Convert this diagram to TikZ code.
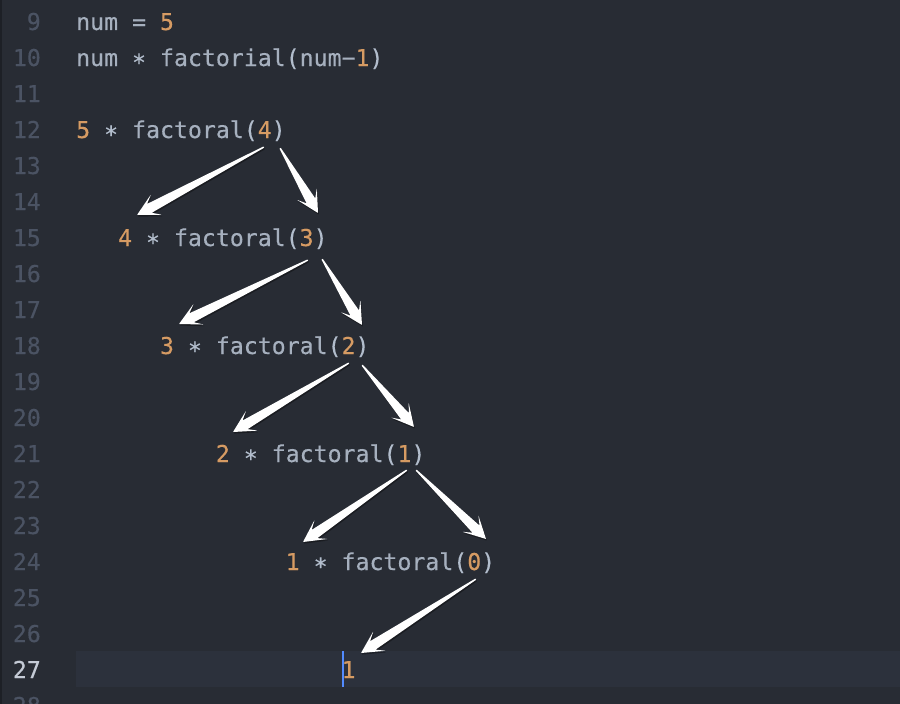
\documentclass[tikz,border=0pt]{standalone}
\usepackage{fontspec}
\newfontfamily\codefont{DejaVu Sans Mono}[FakeBold=0.35]
\usetikzlibrary{calc}
\definecolor{bg}{HTML}{282C34}
\definecolor{rowhl}{HTML}{2C313C}
\definecolor{edge}{HTML}{1D2026}
\definecolor{gutterfg}{HTML}{4B5363}
\definecolor{gutteron}{HTML}{C5CBD6}
\definecolor{codefg}{HTML}{A6B0BE}
\definecolor{punctfg}{HTML}{B2BDCC}
\definecolor{numfg}{HTML}{D69B63}
\definecolor{cursorc}{HTML}{528BFF}
\newcommand{\lit}[1]{\textcolor{numfg}{#1}}
\newcommand{\pun}[1]{\textcolor{punctfg}{#1}}
\newcommand{\mul}{\pun{∗}}
% tapered white call arrow from #1 (tail) to #2 (tip)
\newcommand{\callarrow}[2]{%
  \coordinate (neck) at ($(#2)!14pt!(#1)$);
  \coordinate (barb) at ($(#2)!22pt!(#1)$);
  \foreach \dx/\dy/\col/\op in {.8/-1.6/black/.35, 0/0/white/1}
    \fill[\col, opacity=\op, rounded corners=.6pt,
          transform canvas={xshift=\dx pt, yshift=\dy pt}]
      ($(#1)!.7pt!90:(#2)$) -- ($(neck)!5pt!-90:(#1)$) -- ($(barb)!11.5pt!-90:(#1)$)
      -- (#2) -- ($(barb)!11.5pt!90:(#1)$) -- ($(neck)!5pt!90:(#1)$)
      -- ($(#1)!.7pt!-90:(#2)$) -- cycle;
}
\tikzset{
  code/.style={anchor=base west, inner sep=0pt, text=codefg,
    font=\codefont\fontsize{23.2}{28}\selectfont},
  lineno/.style={anchor=base east, inner sep=0pt, text=gutterfg,
    font=\codefont\fontsize{23.2}{28}\selectfont},
}
\begin{document}
\begin{tikzpicture}[x=1pt, y=-1pt]
\useasboundingbox (0,0) rectangle (900,704);
\fill[bg] (0,0) rectangle (900,704);
\fill[edge] (0,0) rectangle (1.5,704);
\fill[rowhl] (76,651) rectangle (900,687);
% gutter
\foreach \k in {9,...,26,28}
  \node[lineno] (g\k) at (41,{30+(\k-9)*36}) {\k};
\node[lineno, text=gutteron] (g27) at (41,678) {27};
% code lines
\node[code] (l9)  at (76,30)  {num = \lit{5}};
\node[code] (l10) at (76,66)  {num \mul{} factorial\pun{(}num−\lit{1}\pun{)}};
\node[code] (l12) at (76,138) {\lit{5} \mul{} factoral\pun{(}\lit{4}\pun{)}};
\node[code] (l15) at (117.9,246) {\lit{4} \mul{} factoral\pun{(}\lit{3}\pun{)}};
\node[code] (l18) at (159.8,354) {\lit{3} \mul{} factoral\pun{(}\lit{2}\pun{)}};
\node[code] (l21) at (215.7,462) {\lit{2} \mul{} factoral\pun{(}\lit{1}\pun{)}};
\node[code] (l24) at (285.5,570) {\lit{1} \mul{} factoral\pun{(}\lit{0}\pun{)}};
\node[code] (l27) at (341.4,678) {\lit{1}};
\draw[cursorc, line width=2pt] (343,651) -- (343,687);
% arrow ends
\coordinate (a1) at (264,147); \coordinate (b1) at (137,215);
\coordinate (a2) at (280,148); \coordinate (b2) at (318,213);
\coordinate (a3) at (308,260); \coordinate (b3) at (179,324);
\coordinate (a4) at (322,259); \coordinate (b4) at (362,325);
\coordinate (a5) at (349,363); \coordinate (b5) at (233,432);
\coordinate (a6) at (362,365); \coordinate (b6) at (414,427);
\coordinate (a7) at (407,470); \coordinate (b7) at (303,542);
\coordinate (a8) at (416,470); \coordinate (b8) at (486,539);
\coordinate (a9) at (476,579); \coordinate (b9) at (361,653);
\foreach \i in {1,...,9}{
  \callarrow{a\i}{b\i}
}
\end{tikzpicture}
\end{document}
